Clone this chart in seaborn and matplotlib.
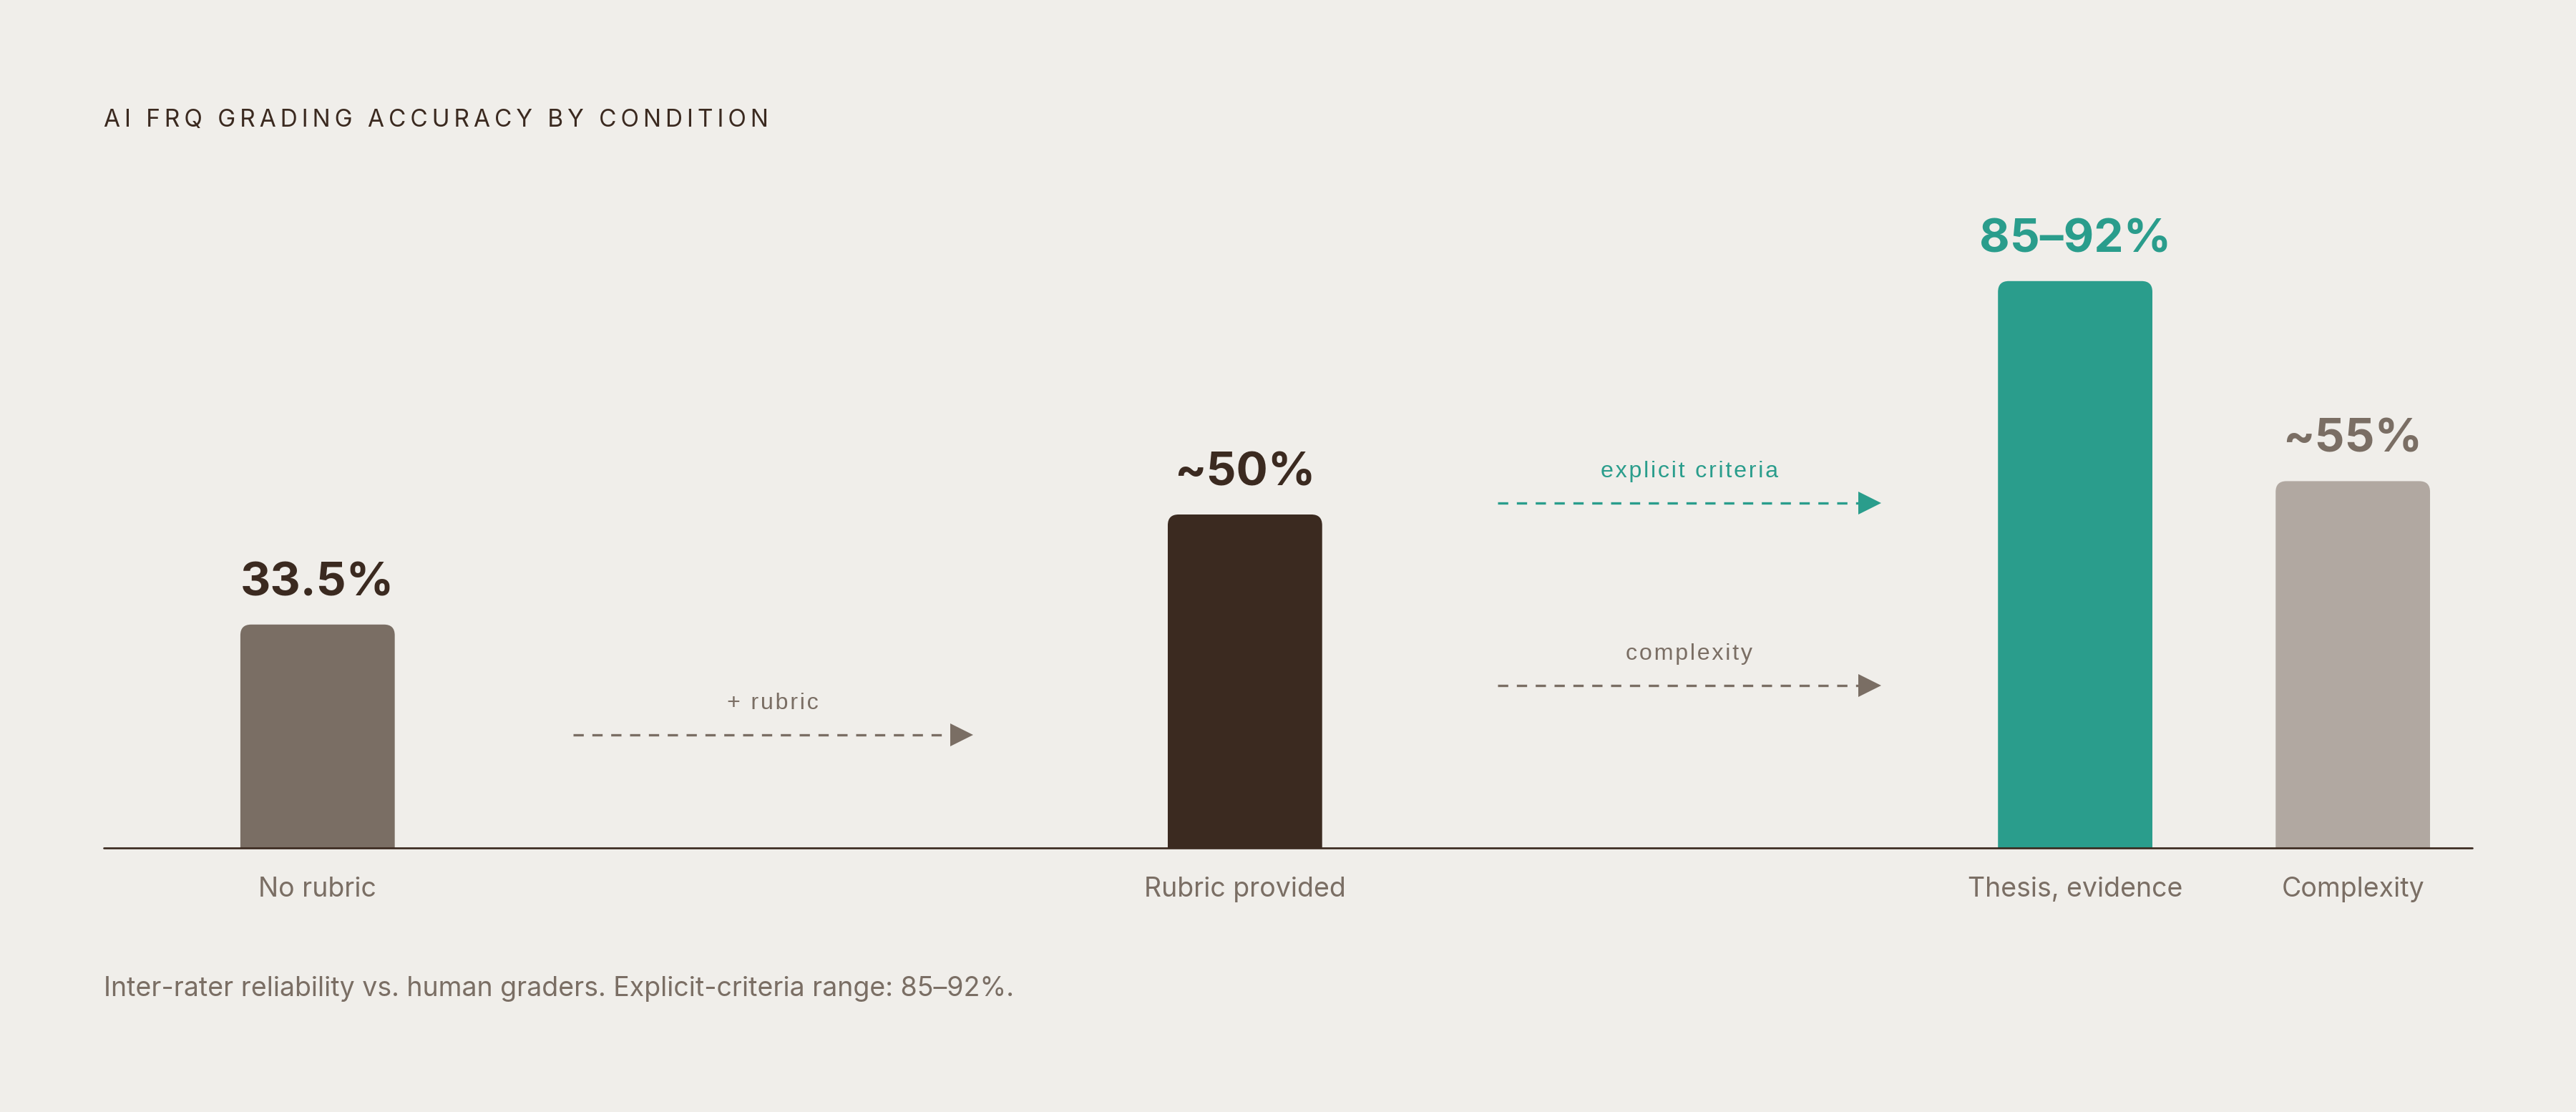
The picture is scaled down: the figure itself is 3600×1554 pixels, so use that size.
import numpy as np
import pandas as pd
import matplotlib
matplotlib.use("Agg")
import matplotlib.pyplot as plt
import seaborn as sns
from matplotlib.patches import FancyBboxPatch

# data
conditions = ["No rubric", "Rubric provided", "Thesis, evidence", "Complexity"]
accuracy = [33.5, 50, 85, 55]
value_labels = ["33.5%", "~50%", "85\u201392%", "~55%"]
arrow_labels = ["+ rubric", "explicit criteria", "complexity"]

title = "AI FRQ GRADING ACCURACY BY CONDITION"
footnote = "Inter-rater reliability vs. human graders. Explicit-criteria range: 85\u201392%."

# layout (x positions of bars and arrows, in bar-spacing units)
bar_pos = [0, 3.34, 6.33, 7.33]
arrow_spans = [(0.92, 2.32), (4.25, 5.59), (4.25, 5.59)]
arrow_y = [17.0, 51.7, 24.4]

BG = "#F0EEEA"
DARK = "#3B2A20"
GREY = "#7A6E64"
TEAL = "#2A9D8C"
LIGHT = "#B1A8A1"
bar_colors = [GREY, DARK, TEAL, LIGHT]
value_colors = [DARK, DARK, TEAL, GREY]
arrow_colors = [GREY, TEAL, GREY]

sns.set_theme(style="white")
plt.rcParams["font.family"] = ["Inter", "DejaVu Sans"]


def spaced(s, gap="\u200a"):
    return gap.join(s)


df = pd.DataFrame({"pos": bar_pos, "condition": conditions, "accuracy": accuracy})

fig = plt.figure(figsize=(24, 10.36), dpi=150, facecolor=BG)
ax = fig.add_axes([145 / 3600, 1 - 1185 / 1554, 3310 / 3600, 932 / 1554])
ax.set_facecolor(BG)

sns.barplot(data=df, x="pos", y="accuracy", hue="condition", hue_order=conditions,
            palette=dict(zip(conditions, bar_colors)), native_scale=True,
            dodge=False, width=0.556, legend=False, ax=ax, saturation=1)

ax.set_xlim(-0.77, 7.76)
ax.set_ylim(0, 100)
fig.canvas.draw()

# aspect for round corners (y data units per x data unit, in pixels)
px_x = ax.transData.transform((1, 0))[0] - ax.transData.transform((0, 0))[0]
px_y = ax.transData.transform((0, 1))[1] - ax.transData.transform((0, 0))[1]
aspect = px_x / px_y
r = 15 / px_x

for p in list(ax.patches):
    x, y = p.get_x(), p.get_y()
    w, h = p.get_width(), p.get_height()
    fc = p.get_facecolor()
    p.remove()
    extra = 3.0
    box = FancyBboxPatch((x, y - extra), w, h + extra,
                         boxstyle=f"round,pad=0,rounding_size={r}",
                         mutation_aspect=aspect, fc=fc, ec="none", zorder=2)
    ax.add_patch(box)
    cx = x + w / 2
    i = int(np.argmin([abs(cx - b) for b in bar_pos]))
    ax.annotate(value_labels[i], (cx, y + h), xytext=(0, 19.5), textcoords="offset points",
                ha="center", va="baseline", fontsize=31.5, fontweight="bold",
                color=value_colors[i])

ax.axhline(0, color=DARK, lw=1.3, clip_on=False, zorder=3)

# dashed transition arrows
for (x0, x1), yv, lab, col in zip(arrow_spans, arrow_y, arrow_labels, arrow_colors):
    ax.plot([x0, x1], [yv, yv], color=col, lw=1.6, ls=(0, (4.3, 3.6)), zorder=2)
    ax.plot([x1], [yv], marker=">", ms=15, color=col, mec="none", zorder=2)
    ax.annotate(spaced(lab), ((x0 + x1) / 2 + 0.02, yv), xytext=(0, 21), textcoords="offset points",
                ha="center", va="center", fontsize=15.5, color=col,
                family=["Liberation Sans", "DejaVu Sans"])

ax.set_xticks(bar_pos)
ax.set_xticklabels(conditions, fontsize=18, color=GREY)
ax.tick_params(axis="x", length=0, pad=19)
ax.set_yticks([])
ax.set_xlabel("")
ax.set_ylabel("")
sns.despine(ax=ax, left=True, bottom=True)

fig.text(145 / 3600, 1 - 168 / 1554, spaced(title, "\u2009"), fontsize=16, color=DARK,
         ha="left", va="center")
fig.text(145 / 3600, 1 - 1382 / 1554, footnote, fontsize=18, color=GREY,
         ha="left", va="center")

fig.savefig("out.png", dpi=150, facecolor=BG)
